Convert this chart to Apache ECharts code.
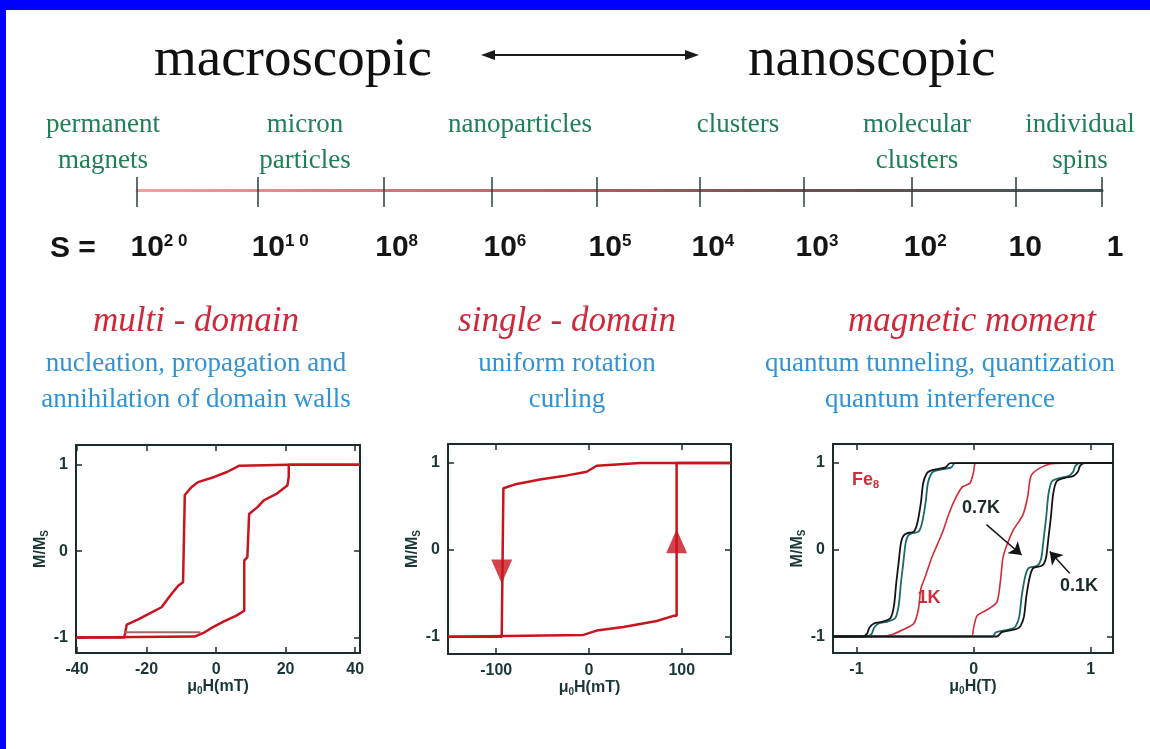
<!DOCTYPE html>
<html>
<head>
<meta charset="utf-8">
<script src="https://cdn.jsdelivr.net/npm/echarts@6/dist/echarts.min.js"></script>
<style>
  html, body { margin: 0; padding: 0; background: #fff; }
  #chart { width: 1150px; height: 749px; }
</style>
</head>
<body>
<div id="chart"></div>
<script>
// ---- data ----
var sizeClasses   = ['permanent\nmagnets', 'micron\nparticles', 'nanoparticles', 'clusters', 'molecular\nclusters', 'individual\nspins'];
var spinExponents = ['20', '10', '8', '6', '5', '4', '3', '2', '1', '0'];   // S = 10^n
var spinScalePos  = [0, 1.13, 2.30, 3.31, 4.29, 5.25, 6.22, 7.23, 8.20, 9.0];  // place on the schematic bar

var regimeTitles = ['multi - domain', 'single - domain', 'magnetic moment'];
var regimeNotes  = [
  'nucleation, propagation and\nannihilation of domain walls',
  'uniform rotation\ncurling',
  'quantum tunneling, quantization\nquantum interference'
];

var momentTicks = [-1, 0, 1];
var fieldTicksMulti  = [-40, -20, 0, 20, 40];
var fieldTicksSingle = [-100, 0, 100];
var fieldTicksFe8    = [-1, 0, 1];

// multi-domain loop (mT)
var multiDownH = [41.4, 20.9, 6.7, 3.3, -0.5, -5.2, -7.1, -9.0, -9.5, -10.9, -12.9, -15.7, -19.5, -22.4, -25.7, -26.4, -40.3];
var multiDownM = [1.0, 1.0, 0.99, 0.92, 0.86, 0.80, 0.74, 0.65, -0.36, -0.40, -0.50, -0.65, -0.73, -0.79, -0.85, -1.0, -1.0];
var multiUpH   = [-40.3, -6.2, -3.3, -0.9, 2.4, 5.7, 8.1, 8.1, 9.0, 9.5, 11.9, 13.8, 17.6, 20.5, 20.9, 20.9, 41.4];
var multiUpM   = [-1.0, -0.99, -0.94, -0.88, -0.81, -0.75, -0.69, -0.11, -0.07, 0.43, 0.51, 0.59, 0.67, 0.76, 0.86, 1.0, 1.0];
var multiTraceH = [-26.4, -4.5];
var multiTraceM = [-0.94, -0.94];

// single-domain loop (mT)
var singleDownH = [152.7, 55, 8.3, -2.5, -27.7, -52.8, -77.9, -92.3, -94.1, -94.1, -152];
var singleDownM = [1.0, 1.0, 0.97, 0.90, 0.85, 0.81, 0.76, 0.71, 0.71, -1.0, -1.0];
var singleUpH   = [-152, -6.1, 8.3, 37, 73, 90.9, 94.4, 94.4, 152.7];
var singleUpM   = [-1.0, -0.98, -0.93, -0.89, -0.82, -0.76, -0.76, 1.0, 1.0];
var switchDown  = [[-94.1, -0.25]];
var switchUp    = [[94.4, 0.10]];

// Fe8 loops (T)
var fe8Hot1KDownH = [1.19, 0.02, 0.0, -0.03, -0.10, -0.17, -0.22, -0.26, -0.31, -0.36, -0.41, -0.45, -0.47, -0.51, -0.60, -0.70, -0.80, -1.2];
var fe8Hot1KDownM = [1.0, 1.0, 0.90, 0.77, 0.72, 0.55, 0.38, 0.22, 0.06, -0.10, -0.30, -0.45, -0.68, -0.85, -0.92, -0.98, -1.0, -1.0];
var fe8Hot1KUpH   = [-1.2, -0.02, 0.0, 0.03, 0.13, 0.20, 0.23, 0.25, 0.28, 0.34, 0.42, 0.46, 0.49, 0.55, 0.65, 0.75, 1.19];
var fe8Hot1KUpM   = [-1.0, -1.0, -0.90, -0.76, -0.68, -0.60, -0.35, -0.10, 0.04, 0.23, 0.40, 0.60, 0.85, 0.93, 0.99, 1.0, 1.0];

var fe8Mid07KDownH = [1.19, -0.16, -0.19, -0.26, -0.33, -0.36, -0.39, -0.41, -0.44, -0.47, -0.53, -0.56, -0.58, -0.60, -0.62, -0.64, -0.67, -0.74, -0.81, -0.85, -0.87, -0.91, -1.2];
var fe8Mid07KDownM = [1.0, 1.0, 0.95, 0.93, 0.91, 0.88, 0.77, 0.54, 0.31, 0.21, 0.19, 0.16, 0.08, -0.15, -0.38, -0.65, -0.79, -0.83, -0.85, -0.90, -0.97, -1.0, -1.0];
var fe8Mid07KUpH   = [-1.2, 0.16, 0.19, 0.26, 0.33, 0.36, 0.39, 0.41, 0.44, 0.47, 0.53, 0.56, 0.58, 0.60, 0.62, 0.64, 0.67, 0.74, 0.81, 0.85, 0.87, 0.91, 1.19];
var fe8Mid07KUpM   = [-1.0, -1.0, -0.95, -0.93, -0.91, -0.88, -0.77, -0.54, -0.31, -0.21, -0.19, -0.16, -0.08, 0.15, 0.38, 0.65, 0.79, 0.83, 0.85, 0.90, 0.97, 1.0, 1.0];

var fe8Cold01KDownH = [1.19, -0.20, -0.24, -0.31, -0.37, -0.40, -0.43, -0.45, -0.48, -0.51, -0.57, -0.60, -0.62, -0.64, -0.66, -0.68, -0.71, -0.78, -0.85, -0.89, -0.91, -0.95, -1.2];
var fe8Cold01KDownM = [1.0, 1.0, 0.95, 0.93, 0.91, 0.88, 0.77, 0.54, 0.31, 0.21, 0.19, 0.16, 0.08, -0.15, -0.38, -0.65, -0.79, -0.83, -0.85, -0.90, -0.97, -1.0, -1.0];
var fe8Cold01KUpH   = [-1.2, 0.20, 0.24, 0.31, 0.37, 0.40, 0.43, 0.45, 0.48, 0.51, 0.57, 0.60, 0.62, 0.64, 0.66, 0.68, 0.71, 0.78, 0.85, 0.89, 0.91, 0.95, 1.19];
var fe8Cold01KUpM   = [-1.0, -1.0, -0.95, -0.93, -0.91, -0.88, -0.77, -0.54, -0.31, -0.21, -0.19, -0.16, -0.08, 0.15, 0.38, 0.65, 0.79, 0.83, 0.85, 0.90, 0.97, 1.0, 1.0];

// annotation arrows in the Fe8 panel: [from, to] in data units
var arrow07K = [[0.11, 0.29], [0.41, -0.06]];
var arrow01K = [[0.82, -0.27], [0.65, -0.02]];

// ---- helpers ----
var SERIF = "'Liberation Serif', 'DejaVu Serif', serif";
var SANS  = "'Liberation Sans', Arial, sans-serif";
var AXIS_INK  = '#1c2b2b';
var LABEL_INK = '#1a3636';
var LOOP_RED  = '#c8141e';

function pairs(xs, ys) {
  return xs.map(function (x, i) { return [x, ys[i]]; });
}

function loopLine(name, xs, ys, axisIdx, color, width, smooth) {
  return {
    name: name, type: 'line', xAxisIndex: axisIdx * 2, yAxisIndex: axisIdx * 2 - 1,
    data: pairs(xs, ys), symbol: 'none', smooth: smooth || false,
    lineStyle: { color: color, width: width }, z: 3
  };
}

var chart = echarts.init(document.getElementById('chart'));

var nameRich = {
  a: { fontFamily: SANS, fontWeight: 'bold', fontSize: 16, color: LABEL_INK, lineHeight: 18 },
  s: { fontFamily: SANS, fontWeight: 'bold', fontSize: 10, color: LABEL_INK, lineHeight: 18, verticalAlign: 'bottom' }
};

var panels = [
  { grid: { left: 76, top: 445, width: 284, height: 208 }, xMin: -40.3, xMax: 41.4, yMin: -1.18, yMax: 1.23,
    xTicks: fieldTicksMulti, unit: 'mT', xGap: 25, yGap: 22 },
  { grid: { left: 448, top: 444, width: 283, height: 210 }, xMin: -152, xMax: 153, yMin: -1.2, yMax: 1.22,
    xTicks: fieldTicksSingle, unit: 'mT', xGap: 25, yGap: 15 },
  { grid: { left: 833, top: 444, width: 280, height: 209 }, xMin: -1.2, xMax: 1.19, yMin: -1.19, yMax: 1.22,
    xTicks: fieldTicksFe8, unit: 'T', xGap: 22, yGap: 17 }
];

var grids = [{ left: 137, width: 965, top: 189, height: 1 }];
var xAxes = [];
var yAxes = [];

// S scale bar
var scaleLine = new echarts.graphic.LinearGradient(0, 0, 1, 0, [
  { offset: 0, color: '#f2a0a0' },
  { offset: 0.45, color: '#b06060' },
  { offset: 0.7, color: '#6a5050' },
  { offset: 1, color: '#3f5656' }
]);
xAxes.push({
  gridIndex: 0, type: 'value', min: 0, max: 9, position: 'bottom',
  axisLine: { show: true, lineStyle: { color: scaleLine, width: 3 } },
  axisTick: { show: true, length: 17, customValues: spinScalePos, lineStyle: { color: '#2b4040', width: 1.5 } },
  splitLine: { show: false },
  axisLabel: {
    show: true, margin: 43, customValues: spinScalePos,
    formatter: function (v) {
      var i = spinScalePos.findIndex(function (p) { return Math.abs(p - v) < 1e-6; });
      var e = spinExponents[i];
      if (e === '0') return '{p2| }{b|1}';
      if (e === '1') return '{p1| }{b|10}';
      var pad = e.length > 1 ? '{p3| }' : '{p2| }';
      return pad + '{b|10}{s|' + e.split('').join(' ') + '}';
    },
    rich: {
      b: { fontFamily: SANS, fontWeight: 'bold', fontSize: 30, lineHeight: 30, color: '#151515' },
      s: { fontFamily: SANS, fontWeight: 'bold', fontSize: 17, lineHeight: 30, color: '#151515', verticalAlign: 'top' },
      p1: { width: 18, fontSize: 10 },
      p2: { width: 26, fontSize: 10 },
      p3: { width: 44, fontSize: 10 }
    }
  }
});
xAxes.push({
  gridIndex: 0, type: 'value', min: 0, max: 9, position: 'bottom',
  axisLine: { show: false },
  axisTick: { show: true, inside: true, length: 13, customValues: spinScalePos, lineStyle: { color: '#2b4040', width: 1.5 } },
  axisLabel: { show: false }, splitLine: { show: false }
});
yAxes.push({ gridIndex: 0, type: 'value', show: false });

panels.forEach(function (p, k) {
  var gi = k + 1;
  grids.push(p.grid);
  var line = { show: true, onZero: false, lineStyle: { color: AXIS_INK, width: 2 } };
  var tickStyle = { color: AXIS_INK, width: 1.5 };
  var labelStyle = { fontFamily: SANS, fontWeight: 'bold', fontSize: 16, color: LABEL_INK };
  xAxes.push({
    gridIndex: gi, type: 'value', min: p.xMin, max: p.xMax, position: 'bottom',
    axisLine: line, splitLine: { show: false },
    axisTick: { show: true, inside: true, length: 6, customValues: p.xTicks, lineStyle: tickStyle },
    axisLabel: Object.assign({ margin: 9, customValues: p.xTicks }, labelStyle),
    name: '{a|\u03bc}{s|0}{a|H(' + p.unit + ')}', nameLocation: 'middle', nameGap: p.xGap,
    nameTextStyle: { rich: nameRich }
  });
  xAxes.push({
    gridIndex: gi, type: 'value', min: p.xMin, max: p.xMax, position: 'top',
    axisLine: line, splitLine: { show: false }, axisLabel: { show: false },
    axisTick: { show: true, inside: true, length: 6, customValues: p.xTicks, lineStyle: tickStyle }
  });
  yAxes.push({
    gridIndex: gi, type: 'value', min: p.yMin, max: p.yMax, position: 'left',
    axisLine: line, splitLine: { show: false },
    axisTick: { show: true, inside: true, length: 6, customValues: momentTicks, lineStyle: tickStyle },
    axisLabel: Object.assign({ margin: 8, customValues: momentTicks }, labelStyle),
    name: '{a|M/M}{s|S}', nameLocation: 'middle', nameGap: p.yGap,
    nameTextStyle: { rich: nameRich }
  });
  yAxes.push({
    gridIndex: gi, type: 'value', min: p.yMin, max: p.yMax, position: 'right',
    axisLine: line, splitLine: { show: false }, axisLabel: { show: false },
    axisTick: { show: true, inside: true, length: 6, customValues: momentTicks, lineStyle: tickStyle }
  });
});

var series = [
  loopLine('multi down', multiDownH, multiDownM, 1, LOOP_RED, 2.5),
  loopLine('multi up', multiUpH, multiUpM, 1, LOOP_RED, 2.5),
  loopLine('multi trace', multiTraceH, multiTraceM, 1, '#9a6a6a', 2),
  loopLine('single down', singleDownH, singleDownM, 2, LOOP_RED, 2.5),
  loopLine('single up', singleUpH, singleUpM, 2, LOOP_RED, 2.5),
  { type: 'scatter', xAxisIndex: 4, yAxisIndex: 3, data: switchDown, symbol: 'triangle', symbolRotate: 180,
    symbolSize: [21, 24], itemStyle: { color: LOOP_RED }, z: 4 },
  { type: 'scatter', xAxisIndex: 4, yAxisIndex: 3, data: switchUp, symbol: 'triangle',
    symbolSize: [21, 24], itemStyle: { color: LOOP_RED }, z: 4 },
  loopLine('1K down', fe8Hot1KDownH, fe8Hot1KDownM, 3, '#d42a3a', 1.6, 0.25),
  loopLine('1K up', fe8Hot1KUpH, fe8Hot1KUpM, 3, '#d42a3a', 1.6, 0.25),
  loopLine('0.7K down', fe8Mid07KDownH, fe8Mid07KDownM, 3, '#1d6a6a', 1.8, 0.25),
  loopLine('0.7K up', fe8Mid07KUpH, fe8Mid07KUpM, 3, '#1d6a6a', 1.8, 0.25),
  loopLine('0.1K down', fe8Cold01KDownH, fe8Cold01KDownM, 3, '#151515', 1.8, 0.25),
  loopLine('0.1K up', fe8Cold01KUpH, fe8Cold01KUpM, 3, '#151515', 1.8, 0.25)
];
series[series.length - 1].markLine = {
  silent: true, symbol: ['none', 'arrow'], symbolSize: 12, animation: false,
  label: { show: false },
  lineStyle: { color: '#151515', width: 1.5, type: 'solid' },
  data: [
    [{ coord: arrow07K[0] }, { coord: arrow07K[1] }],
    [{ coord: arrow01K[0] }, { coord: arrow01K[1] }]
  ]
};

// ---- text and frame ----
var classX = [103, 305, 520, 738, 917, 1080];
var titleX = [196, 567, 972];
var noteX  = [196, 567, 940];
var graphics = [
  { type: 'rect', shape: { x: 0, y: 0, width: 1150, height: 10 }, style: { fill: '#0000ff' } },
  { type: 'rect', shape: { x: 0, y: 0, width: 6, height: 749 }, style: { fill: '#0000ff' } },
  { type: 'text', x: 154, y: 61, style: { text: 'macroscopic', fontFamily: SERIF, fontSize: 55, fill: '#111', verticalAlign: 'middle' } },
  { type: 'text', x: 748, y: 61, style: { text: 'nanoscopic', fontFamily: SERIF, fontSize: 55, fill: '#111', verticalAlign: 'middle' } },
  { type: 'line', shape: { x1: 490, y1: 55, x2: 690, y2: 55 }, style: { stroke: '#1a1a1a', lineWidth: 2 } },
  { type: 'polygon', shape: { points: [[481, 55], [495, 50], [495, 60]] }, style: { fill: '#1a1a1a' } },
  { type: 'polygon', shape: { points: [[699, 55], [685, 50], [685, 60]] }, style: { fill: '#1a1a1a' } },
  { type: 'text', x: 50, y: 249, style: { text: 'S =', fontFamily: SANS, fontWeight: 'bold', fontSize: 30, fill: '#151515', verticalAlign: 'middle' } },
  { type: 'text', x: 852, y: 480, style: {
      text: '{f|Fe}{n|8}', verticalAlign: 'middle',
      rich: { f: { fontFamily: SANS, fontWeight: 'bold', fontSize: 18, fill: '#d42a3a', lineHeight: 20 },
              n: { fontFamily: SANS, fontWeight: 'bold', fontSize: 11, fill: '#d42a3a', lineHeight: 20, verticalAlign: 'bottom' } } } },
  { type: 'text', x: 981, y: 508, style: { text: '0.7K', fontFamily: SANS, fontWeight: 'bold', fontSize: 18, fill: '#1a2a2a', align: 'center', verticalAlign: 'middle' } },
  { type: 'text', x: 929, y: 598, style: { text: '1K', fontFamily: SANS, fontWeight: 'bold', fontSize: 18, fill: '#d42a3a', align: 'center', verticalAlign: 'middle' } },
  { type: 'text', x: 1079, y: 586, style: { text: '0.1K', fontFamily: SANS, fontWeight: 'bold', fontSize: 18, fill: '#1a2a2a', align: 'center', verticalAlign: 'middle' } }
];
sizeClasses.forEach(function (t, i) {
  graphics.push({ type: 'text', x: classX[i], y: 107, style: {
    text: t, fontFamily: SERIF, fontSize: 27, lineHeight: 36, fill: '#1f8055', align: 'center', verticalAlign: 'top' } });
});
regimeTitles.forEach(function (t, i) {
  graphics.push({ type: 'text', x: titleX[i], y: 322, style: {
    text: t, fontFamily: SERIF, fontStyle: 'italic', fontSize: 35, fill: '#d0283a', align: 'center', verticalAlign: 'middle' } });
  graphics.push({ type: 'text', x: noteX[i], y: 346, style: {
    text: regimeNotes[i], fontFamily: SERIF, fontSize: 27, lineHeight: 36, fill: '#2f93d6', align: 'center', verticalAlign: 'top' } });
});

chart.setOption({
  animation: false,
  backgroundColor: '#ffffff',
  grid: grids,
  xAxis: xAxes,
  yAxis: yAxes,
  series: series,
  graphic: graphics
});
</script>
</body>
</html>
